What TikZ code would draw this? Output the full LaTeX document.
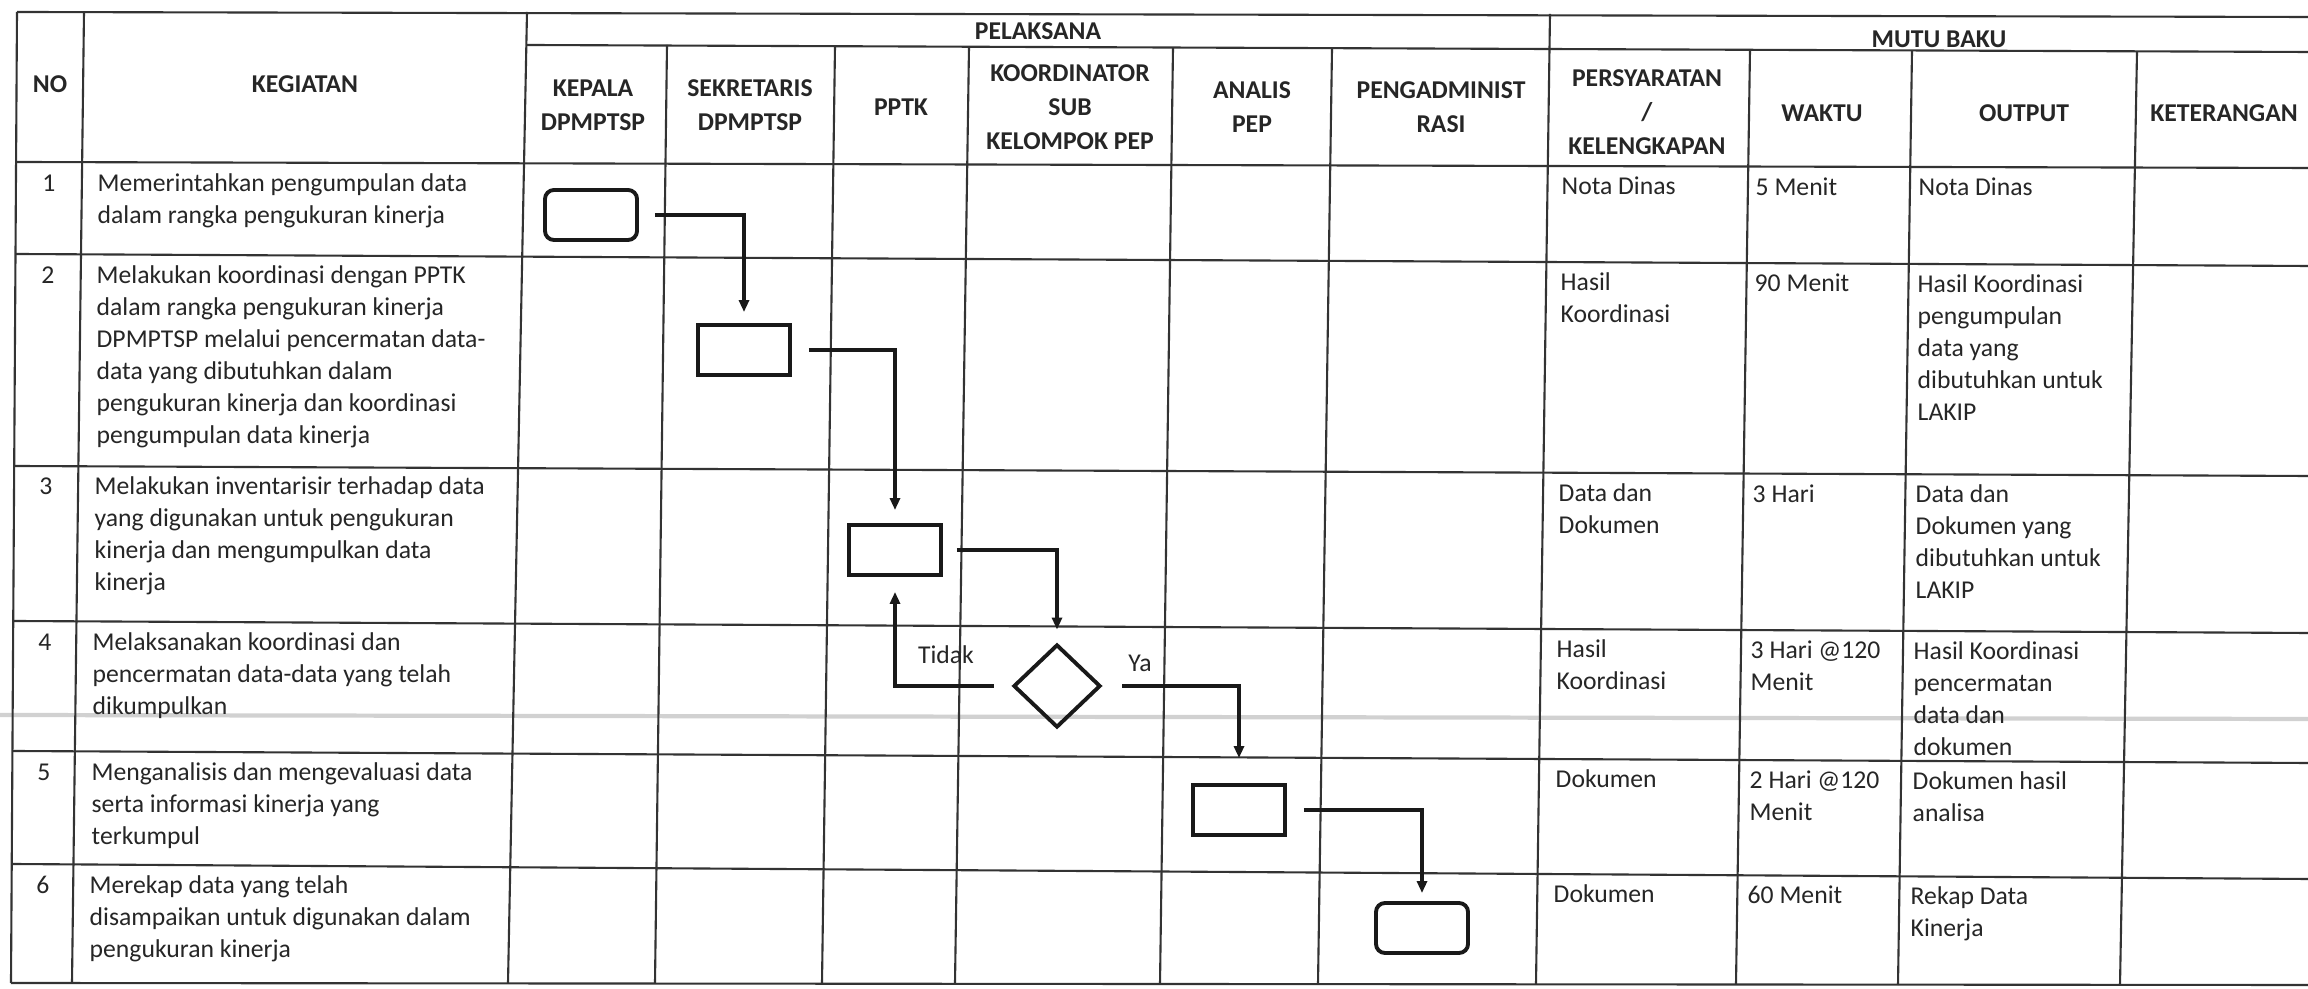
\documentclass[tikz,border=0pt]{standalone}
\usepackage{fontspec}
\setmainfont{Carlito}
\usetikzlibrary{shapes.geometric,arrows.meta}
\newcommand{\bodyfont}{\fontsize{7.3}{9.1}\selectfont}
\newcommand{\headfont}{\fontsize{7.3}{9.7}\selectfont\bfseries}
\tikzset{
  gridline/.style={line width=0.6pt, draw=black!80},
  scanline/.style={line width=1.2pt, draw=black!18},
  proc/.style={draw=black!90, line width=1.1pt, minimum width=0.92cm, minimum height=0.5cm, inner sep=0pt},
  term/.style={proc, rounded corners=0.09cm},
  dec/.style={draw=black!90, diamond, line width=1.1pt, minimum width=0.87cm, minimum height=0.83cm, inner sep=0pt},
  flow/.style={line width=1.1pt, draw=black!90, -{Triangle[length=0.12cm,width=0.1cm]}},
  hdr/.style={font=\headfont, align=center, inner sep=0pt, text=black!85},
  body/.style={font=\bodyfont, align=left, inner sep=0pt, anchor=north west, text=black!85},
  num/.style={font=\bodyfont, inner sep=0pt, anchor=north, text=black!85},
  lbl/.style={font=\bodyfont, inner sep=0pt, text=black!85},
}
\begin{document}
\begin{tikzpicture}[x=0.01cm,y=-0.01cm]
\useasboundingbox (0,0) rectangle (2308,989);
\fill[white] (0,0) rectangle (2308,989);
% scan artefact
\draw[scanline] (0,715) -- (2308,719);
% table grid: horizontal lines (slightly skewed like the scan)
\draw[gridline] (17,12) -- (2308,17);
\draw[gridline] (527,45) -- (2308,52);
\draw[gridline] (16,162) -- (2308,168);
\draw[gridline] (16,254) -- (2308,266);
\draw[gridline] (15,466) -- (2308,476);
\draw[gridline] (14,621) -- (2308,633);
\draw[gridline] (13,751) -- (2308,763);
\draw[gridline] (12,864) -- (2308,879);
\draw[gridline] (11,983) -- (2308,985);
% vertical lines
\draw[gridline] (17,12) -- (11,983);
\draw[gridline] (84,12) -- (72,983);
\draw[gridline] (527,12) -- (508,983);
\draw[gridline] (1550,14) -- (1536,984);
\draw[gridline] (667,45) -- (655,983);
\draw[gridline] (835,46) -- (822,983);
\draw[gridline] (969,47) -- (955,983);
\draw[gridline] (1173,48) -- (1160,984);
\draw[gridline] (1332,49) -- (1318,984);
\draw[gridline] (1750,50) -- (1736,984);
\draw[gridline] (1912,51) -- (1898,985);
\draw[gridline] (2137,52) -- (2120,985);
% headers
\node[hdr] (hno) at (50,84) {NO};
\node[hdr] (hkeg) at (305,84) {KEGIATAN};
\node[hdr] (hpel) at (1038,31) {PELAKSANA};
\node[hdr] (hmut) at (1939,39) {MUTU BAKU};
\node[hdr] (hkep) at (593,105) {KEPALA\\DPMPTSP};
\node[hdr] (hsek) at (750,105) {SEKRETARIS\\DPMPTSP};
\node[hdr] (hppt) at (901,107) {PPTK};
\node[hdr] (hkoo) at (1070,107) {KOORDINATOR\\SUB\\KELOMPOK PEP};
\node[hdr] (hana) at (1252,107) {ANALIS\\PEP};
\node[hdr] (hpen) at (1441,107) {PENGADMINIST\\RASI};
\node[hdr] (hper) at (1647,112) {PERSYARATAN\\/\\KELENGKAPAN};
\node[hdr] (hwak) at (1822,113) {WAKTU};
\node[hdr] (hout) at (2024,113) {OUTPUT};
\node[hdr] (hket) at (2224,113) {KETERANGAN};
% row numbers
\node[num] (n1) at (49,168) {\strut 1};
\node[num] (n2) at (48,260) {\strut 2};
\node[num] (n3) at (46,471) {\strut 3};
\node[num] (n4) at (45,627) {\strut 4};
\node[num] (n5) at (44,757) {\strut 5};
\node[num] (n6) at (43,870) {\strut 6};
% kegiatan
\node[body] (k1) at (97,168) {\strut Memerintahkan pengumpulan data\\dalam rangka pengukuran kinerja};
\node[body] (k2) at (96,260) {\strut Melakukan koordinasi dengan PPTK\\dalam rangka pengukuran kinerja\\DPMPTSP melalui pencermatan data-\\data yang dibutuhkan dalam\\pengukuran kinerja dan koordinasi\\pengumpulan data kinerja};
\node[body] (k3) at (94,471) {\strut Melakukan inventarisir terhadap data\\yang digunakan untuk pengukuran\\kinerja dan mengumpulkan data\\kinerja};
\node[body] (k4) at (92,627) {\strut Melaksanakan koordinasi dan\\pencermatan data-data yang telah\\dikumpulkan};
\node[body] (k5) at (91,757) {\strut Menganalisis dan mengevaluasi data\\serta informasi kinerja yang\\terkumpul};
\node[body] (k6) at (89,870) {\strut Merekap data yang telah\\disampaikan untuk digunakan dalam\\pengukuran kinerja};
% persyaratan
\node[body] (p1) at (1561,171) {\strut Nota Dinas};
\node[body] (p2) at (1560,267) {\strut Hasil\\Koordinasi};
\node[body] (p3) at (1558,478) {\strut Data dan\\Dokumen};
\node[body] (p4) at (1556,634) {\strut Hasil\\Koordinasi};
\node[body] (p5) at (1555,764) {\strut Dokumen};
\node[body] (p6) at (1553,879) {\strut Dokumen};
% waktu
\node[body] (w1) at (1755,172) {\strut 5 Menit};
\node[body] (w2) at (1754,268) {\strut 90 Menit};
\node[body] (w3) at (1752,479) {\strut 3 Hari};
\node[body] (w4) at (1750,635) {\strut 3 Hari @120\\Menit};
\node[body] (w5) at (1749,765) {\strut 2 Hari @120\\Menit};
\node[body] (w6) at (1747,880) {\strut 60 Menit};
% output
\node[body] (o1) at (1918,172) {\strut Nota Dinas};
\node[body] (o2) at (1917,269) {\strut Hasil Koordinasi\\pengumpulan\\data yang\\dibutuhkan untuk\\LAKIP};
\node[body] (o3) at (1915,479) {\strut Data dan\\Dokumen yang\\dibutuhkan untuk\\LAKIP};
\node[body] (o4) at (1913,636) {\strut Hasil Koordinasi\\pencermatan\\data dan\\dokumen};
\node[body] (o5) at (1912,766) {\strut Dokumen hasil\\analisa};
\node[body] (o6) at (1910,881) {\strut Rekap Data\\Kinerja};
% flowchart
\node[term] (b1) at (591,215) {};
\node[proc] (b2) at (744,350) {};
\node[proc] (b3) at (895,550) {};
\node[dec]  (d4) at (1057,686) {};
\node[proc] (b5) at (1239,810) {};
\node[term] (b6) at (1422,928) {};
\draw[flow, shorten <=0.16cm, shorten >=0.11cm] (b1.east) -| (b2.north);
\draw[flow, shorten <=0.17cm, shorten >=0.13cm] (b2.east) -| (b3.north);
\draw[flow, shorten <=0.14cm, shorten >=0.13cm] (b3.east) -| (d4.north);
\draw[flow, shorten <=0.18cm, shorten >=0.15cm] (d4.west) -| (b3.south);
\draw[flow, shorten <=0.20cm, shorten >=0.25cm] (d4.east) -| (b5.north);
\draw[flow, shorten <=0.17cm, shorten >=0.08cm] (b5.east) -| (b6.north);
\node[lbl] (ltidak) at (946,655) {Tidak};
\node[lbl] (lya) at (1140,663) {Ya};
\end{tikzpicture}
\end{document}
